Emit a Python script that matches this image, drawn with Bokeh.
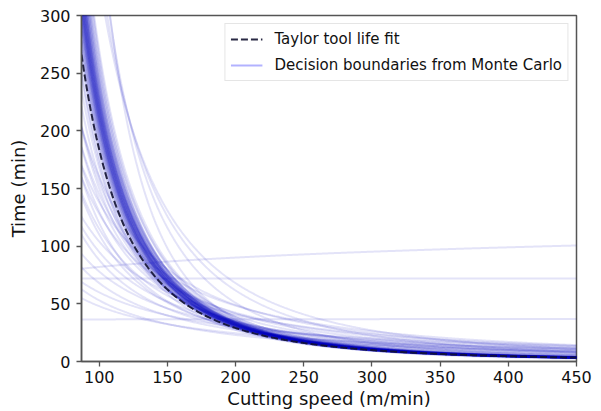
import numpy as np
from bokeh.plotting import figure
from bokeh.models import Range1d, FixedTicker, Legend, LegendItem, ColumnDataSource
from bokeh.embed import file_html
from bokeh.resources import INLINE

# ---- data ----
x_ticks = [100, 150, 200, 250, 300, 350, 400, 450]
y_ticks = [0, 50, 100, 150, 200, 250, 300]

# Taylor tool life fit  V * T^n = C
taylor_n = 0.376
taylor_C = 710.0

# Monte Carlo decision boundaries: tool life read at V=100 and V=400 (min)
# dense core of the distribution
core_T_at_100 = [182, 185, 188, 190, 192, 194, 196, 198, 199, 200, 202, 203, 205, 206,
                 207, 208, 209, 210, 211, 212, 213, 214, 215, 216, 217, 218, 219, 220,
                 221, 222, 223, 224, 225, 226, 228, 229, 230, 232, 234, 236, 238, 240,
                 243, 246, 249, 252, 256, 260, 265, 270, 176, 168, 160, 172,
                 204, 211, 218, 227, 233, 242]
core_T_at_400 = [4.9, 4.6, 5.1, 4.4, 4.8, 5.3, 4.5, 4.9, 4.2, 5.0, 4.7, 5.4, 4.3, 4.9,
                 4.6, 5.1, 4.4, 4.8, 5.2, 4.5, 4.9, 4.3, 5.0, 4.7, 5.5, 4.4, 4.9, 4.6,
                 5.2, 4.2, 4.8, 5.0, 4.5, 5.3, 4.7, 4.4, 5.1, 4.6, 4.9, 5.6, 4.3, 4.8,
                 5.2, 4.5, 5.0, 4.7, 5.8, 4.4, 5.1, 5.5, 5.0, 5.8, 6.4, 4.4,
                 4.7, 4.6, 4.8, 4.9, 4.6, 4.7]
# scattered outliers
out_T_at_100 = [150, 140, 130, 120, 110, 155,
                145, 128, 115, 104, 95, 88, 78, 68, 60, 53, 48, 160, 138,
                390, 370, 345, 330,
                82, 72, 36.5]
out_T_at_400 = [7.5, 8.5, 9.5, 7.0, 8.0, 10.0,
                12, 14, 10.5, 16, 12, 9.5, 13, 11, 15, 10, 12.5, 15, 17,
                3.5, 7, 11, 14,
                99, 72, 36.8]

V_MIN, V_MAX = 87, 450

p = figure(width=601, height=411, output_backend="svg", toolbar_location=None,
           x_range=Range1d(V_MIN, V_MAX), y_range=Range1d(0, 300),
           min_border_left=81, min_border_right=25, min_border_top=15,
           min_border_bottom=50)

V = np.linspace(V_MIN, V_MAX, 500)
mc_color = "#0000bb"
for t100, t400 in zip(out_T_at_100 + core_T_at_100, out_T_at_400 + core_T_at_400):
    k = np.log(t100 / t400) / np.log(4.0)
    T = t100 * (100.0 / V) ** k
    p.line(V, T, line_color=mc_color, line_alpha=0.11, line_width=2)

T_fit = (taylor_C / V) ** (1.0 / taylor_n)
fit_r = p.line(V, T_fit, line_color="#121230", line_alpha=0.9, line_width=2,
               line_dash="7 3")

# legend proxy for MC lines
proxy_src = ColumnDataSource(dict(x=[np.nan], y=[np.nan]))
mc_proxy = p.line("x", "y", source=proxy_src, line_color="#0000ff", line_alpha=0.3,
                  line_width=2)

legend = Legend(items=[LegendItem(label="Taylor tool life fit", renderers=[fit_r]),
                       LegendItem(label="Decision boundaries from Monte Carlo",
                                  renderers=[mc_proxy])],
                location="top_right")
legend.margin = 8
legend.padding = 5
legend.spacing = 6
legend.glyph_width = 32
legend.glyph_height = 20
legend.label_height = 20
legend.label_standoff = 12
legend.label_text_font = "DejaVu Sans"
legend.label_text_font_size = "15px"
legend.label_text_color = "#111111"
legend.border_line_color = "#cccccc"
legend.border_line_width = 1
legend.background_fill_alpha = 0.85
p.add_layout(legend)

font = "DejaVu Sans"
for ax in (p.xaxis[0], p.yaxis[0]):
    ax.axis_label_text_font = font
    ax.axis_label_text_font_size = "18px"
    ax.axis_label_text_font_style = "normal"
    ax.axis_label_text_color = "#111111"
    ax.major_label_text_font = font
    ax.major_label_text_font_size = "16px"
    ax.major_label_text_color = "#111111"
    ax.axis_line_color = "#555555"
    ax.axis_line_width = 1.5
    ax.major_tick_line_color = "#555555"
    ax.major_tick_line_width = 1.3
    ax.major_tick_out = 5
    ax.major_tick_in = 0
    ax.minor_tick_out = 0
    ax.minor_tick_in = 0

p.xaxis.major_label_standoff = 4
p.yaxis.major_label_standoff = 6
p.xaxis.axis_label = "Cutting speed (m/min)"
p.yaxis.axis_label = "Time (min)"
p.xaxis.ticker = FixedTicker(ticks=x_ticks)
p.yaxis.ticker = FixedTicker(ticks=y_ticks)
p.xaxis.axis_label_standoff = 2
p.yaxis.axis_label_standoff = 8

p.xgrid.visible = False
p.ygrid.visible = False
p.outline_line_color = "#555555"
p.outline_line_width = 1.5
p.outline_line_alpha = 1
p.background_fill_color = "white"
p.border_fill_color = "white"

open("out.html", "w").write(file_html(p, INLINE))
